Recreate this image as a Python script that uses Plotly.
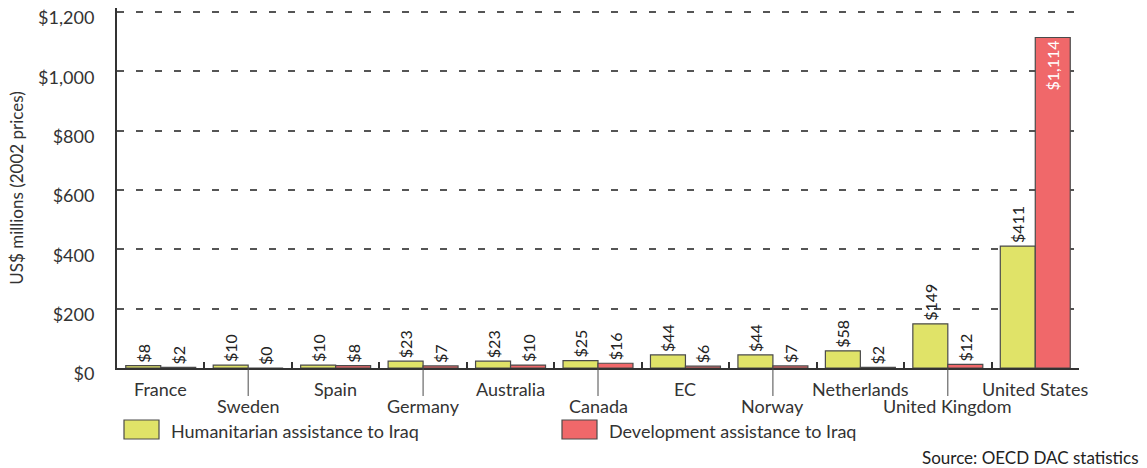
import plotly.graph_objects as go

# Aid to Iraq by donor, US$ millions (2002 prices)
donors = ["France", "Sweden", "Spain", "Germany", "Australia", "Canada",
          "EC", "Norway", "Netherlands", "United Kingdom", "United States"]
humanitarian = [8, 10, 10, 23, 23, 25, 44, 44, 58, 149, 411]
development = [2, 0, 8, 7, 10, 16, 6, 7, 2, 12, 1114]
y_ticks = [0, 200, 400, 600, 800, 1000, 1200]
y_tick_text = ["$0", "$200", "$400", "$600", "$800", "$1,000", "$1,200"]

FONT = "Lato"
TXT = "#333333"
YELLOW = "#E0E368"
RED = "#F0686A"
EDGE = "#4A4A4A"

W, H = 1147, 468
ML, MR, MT, MB = 117, 68, 8, 100
PW, PH = W - ML - MR, H - MT - MB
# leave a little headroom above the top gridline so it is drawn
Y_TOP = 1200 * PH / (PH - 4)


def px_x(px):
    return (px - ML) / PW


def px_y(px):
    return (H - MB - px) / PH


fig = go.Figure()

fig.add_trace(go.Bar(
    x=donors, y=humanitarian, name="Humanitarian assistance to Iraq",
    marker=dict(color=YELLOW, line=dict(color=EDGE, width=1.2)),
    text=[f"${v:,}" for v in humanitarian], textposition="outside",
    textangle=-90, constraintext="none", cliponaxis=False,
    outsidetextfont=dict(family=FONT, size=16, color="#222222"),
    showlegend=False,
))

dev_pos = ["inside" if v > 600 else "outside" for v in development]
fig.add_trace(go.Bar(
    x=donors, y=development, name="Development assistance to Iraq",
    marker=dict(color=RED, line=dict(color=EDGE, width=1.2)),
    text=[f"${v:,}" for v in development], textposition=dev_pos,
    textangle=-90, constraintext="none", cliponaxis=False,
    insidetextanchor="end",
    insidetextfont=dict(family=FONT, size=16, color="white"),
    outsidetextfont=dict(family=FONT, size=16, color="#222222"),
    showlegend=False,
))

annotations = []
shapes = []

# Staggered category labels with leader lines on the lower row
for i, name in enumerate(donors):
    lower = i % 2 == 1
    annotations.append(dict(
        x=name, xref="x", y=0, yref="paper", yanchor="middle",
        yshift=-38 if lower else -21, text=name, showarrow=False,
        font=dict(family=FONT, size=18, color=TXT),
    ))
    if lower:
        shapes.append(dict(
            type="line", xref="x", yref="paper", x0=name, x1=name,
            y0=0, y1=px_y(396), line=dict(color=EDGE, width=1),
        ))

# Legend swatches and labels
legend_items = [("Humanitarian assistance to Iraq", YELLOW, 124),
                ("Development assistance to Iraq", RED, 562)]
for label, color, left in legend_items:
    shapes.append(dict(
        type="rect", xref="paper", yref="paper",
        x0=px_x(left), x1=px_x(left + 35), y0=px_y(439), y1=px_y(420),
        fillcolor=color, line=dict(color=EDGE, width=1.2),
    ))
    annotations.append(dict(
        x=px_x(left + 45), xref="paper", y=px_y(431), yref="paper",
        xanchor="left", yanchor="middle", text=label, showarrow=False,
        font=dict(family=FONT, size=18, color=TXT),
    ))

annotations.append(dict(
    x=px_x(1141), xref="paper", y=px_y(457), yref="paper",
    xanchor="right", yanchor="middle", text="Source: OECD DAC statistics",
    showarrow=False, font=dict(family=FONT, size=17, color="#222222"),
))

fig.update_layout(
    width=W, height=H,
    margin=dict(l=ML, r=MR, t=MT, b=MB, pad=0, autoexpand=False),
    paper_bgcolor="white", plot_bgcolor="white",
    barmode="group", bargap=0.2, bargroupgap=0,
    font=dict(family=FONT, color=TXT),
    annotations=annotations, shapes=shapes,
    xaxis=dict(
        type="category", tickson="boundaries", ticks="inside", ticklen=6,
        tickwidth=2, tickcolor="#333333", showticklabels=False,
        showline=True, linecolor="#333333", linewidth=2, automargin=False,
        showgrid=False, zeroline=False, range=[-0.5, len(donors) - 0.5],
    ),
    yaxis=dict(
        range=[0, Y_TOP], tickvals=y_ticks, ticktext=y_tick_text,
        ticks="", ticklabelshift=6, ticklabelstandoff=17, automargin=False,
        tickfont=dict(family=FONT, size=18, color=TXT),
        showline=True, linecolor="#333333", linewidth=2,
        showgrid=True, gridcolor="#555555", gridwidth=1.5,
        griddash="7px,12px", zeroline=False,
        title=dict(text="US$ millions (2002 prices)", standoff=10,
                   font=dict(family=FONT, size=17, color=TXT)),
    ),
)

fig.write_html("out.html")
